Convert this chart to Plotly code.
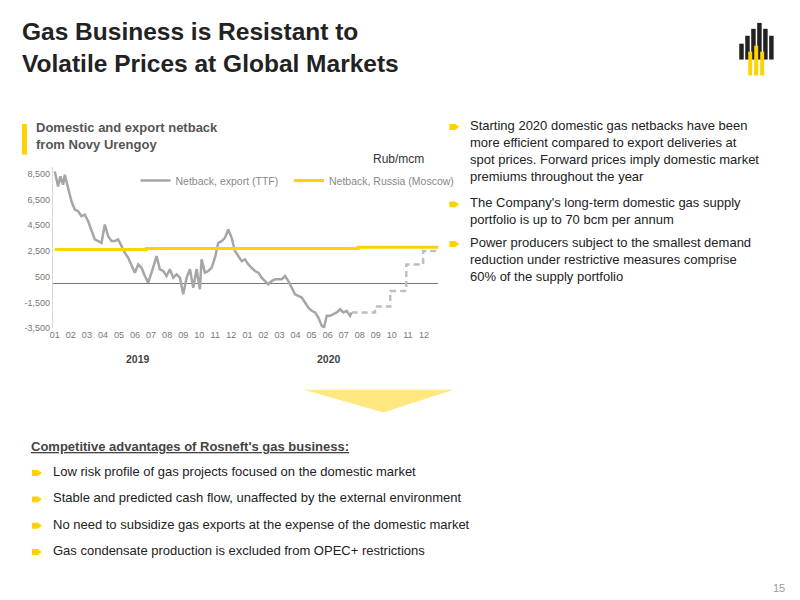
import plotly.graph_objects as go

# data (x in months since Jan 2019, 0 = Jan 2019)
exp_x_z = [105,115,122,130,135,145,155,165,175,185,195,205,215,225,235,245,255,265,275,285,295,305,315,325,335,345,355,365,375,385,395,405,410,420,430,440,450,460,470,480,490,500,510,520,530,540,545,555,565,575,585,595,605,615,625,635,645,655,665,675,685,695,705,715,725,735,745,755,765,775,785,795,805,815,825,835,845,855,865,875,885,895,905,912,920,930,940,950,960,970,980,990,995]
exp_vals = [8680,7520,8300,7650,8420,7390,6360,5720,5590,5200,5330,4810,4170,3400,3270,3140,4560,3650,3270,3270,3400,2880,2370,1980,1330,820,1460,1200,560,50,820,1720,2110,1080,950,560,1080,430,690,430,-860,430,1080,-350,1080,-470,1850,820,950,1200,1980,3140,3270,3530,4170,3530,2500,2110,1720,1850,1460,1200,950,820,430,170,-80,170,300,300,300,560,170,-350,-860,-990,-1110,-1500,-1890,-2140,-2270,-2660,-3300,-3430,-2530,-2530,-2400,-2270,-2020,-2270,-2140,-2530,-2270]
exp_x = [(z-105)/48.1 for z in exp_x_z]
fwd_x = [18.5, 19.95, 19.95, 20.9, 20.9, 21.9, 21.9, 22.95, 22.95, 23.9]
fwd_vals = [-2270, -2270, -1810, -1810, -600, -600, 1460, 1460, 2500, 2500]
dom_x = [0, 5.7, 5.7, 18.9, 18.9, 23.9]
dom_vals = [2620, 2620, 2700, 2700, 2800, 2800]
tick_pos = list(range(24))
tick_text = ["01","02","03","04","05","06","07","08","09","10","11","12"] * 2
y_ticks = [8500, 6500, 4500, 2500, 500, -1500, -3500]

GREY = "#a6a6a6"
YEL = "#ffd200"
fig = go.Figure()
fig.add_trace(go.Scatter(x=exp_x, y=exp_vals, mode="lines", line=dict(color=GREY, width=2.5), name="Netback, export (TTF)", legend="legend"))
fig.add_trace(go.Scatter(x=fwd_x, y=fwd_vals, mode="lines", line=dict(color="#bfbfbf", width=2.5, dash="6px,4px"), showlegend=False))
fig.add_trace(go.Scatter(x=dom_x, y=dom_vals, mode="lines", line=dict(color=YEL, width=3), name="Netback, Russia (Moscow)", legend="legend2"))

XO = 11
def px(x): return (x-XO)/800
def py(y): return 1-y/600

leg = dict(orientation="h", y=py(174), xanchor="left", yanchor="middle",
           font=dict(size=10.5, color="#888"), bgcolor="rgba(0,0,0,0)", itemwidth=30)
fig.update_layout(
    width=800, height=600, margin=dict(l=0, r=0, t=0, b=0),
    plot_bgcolor="white", paper_bgcolor="white",
    font=dict(family="Liberation Sans, Arial", color="#333"),
    xaxis=dict(domain=[px(53), px(440)], range=[-0.12, 23.9], tickvals=tick_pos, ticktext=tick_text,
               showgrid=False, zeroline=False, showline=False, tickfont=dict(size=9, color="#777"), ticks=""),
    yaxis=dict(domain=[py(323), py(160)], range=[-3500, 9050], tickvals=y_ticks,
               ticktext=["8,500","6,500","4,500","2,500","500","-1,500","-3,500"],
               showgrid=False, zeroline=True, zerolinecolor="#777", zerolinewidth=1.2,
               showline=True, linecolor="#d9d9d9", tickfont=dict(size=9, color="#777"), ticks=""),
    legend=dict(leg, x=px(136)),
    legend2=dict(leg, x=px(290)),
    showlegend=True,
)

ann = []
def txt(x, y, s, size=12, color="#333", bold=False, anchor="left", yanchor="top"):
    if bold: s = "<b>" + s + "</b>"
    ann.append(dict(x=px(x), y=py(y), xref="paper", yref="paper", text=s, showarrow=False,
                    xanchor=anchor, yanchor=yanchor, align="left", font=dict(size=size, color=color)))

txt(20, 8, "Gas Business is Resistant to<br>Volatile Prices at Global Markets", size=24.5, color="#222", bold=True)
txt(34, 111, "Domestic and export netback<br>from Novy Urengoy", size=13, color="#555", bold=True)
txt(372, 143, "Rub/mcm", size=12, color="#333")
txt(138, 346, "2019", size=10.5, color="#444", bold=True, anchor="center")
txt(330, 346, "2020", size=10.5, color="#444", bold=True, anchor="center")
right = [(109, "Starting 2020 domestic gas netbacks have been<br>more efficient compared to export deliveries at<br>spot prices. Forward prices imply domestic market<br>premiums throughout the year"),
         (187, "The Company's long-term domestic gas supply<br>portfolio is up to 70 bcm per annum"),
         (227, "Power producers subject to the smallest demand<br>reduction under restrictive measures comprise<br>60% of the supply portfolio")]
shapes = []
def bullet(x, y):
    shapes.append(dict(type="path", xref="paper", yref="paper",
        path=f"M {px(x)},{py(y-3)} L {px(x+6)},{py(y-3)} L {px(x+10)},{py(y)} L {px(x+6)},{py(y+3)} L {px(x)},{py(y+3)} Z",
        fillcolor=YEL, line=dict(width=0)))
for y, s in right:
    txt(470, y, s, size=13, color="#222")
    bullet(451, y+11)
ann.append(dict(x=px(29), y=py(433), xref="paper", yref="paper", text="<b><u>Competitive advantages of Rosneft's gas business:</u></b>",
                showarrow=False, xanchor="left", yanchor="top", font=dict(size=13, color="#444")))
for i, s in enumerate(["Low risk profile of gas projects focused on the domestic market",
                       "Stable and predicted cash flow, unaffected by the external environment",
                       "No need to subsidize gas exports at the expense of the domestic market",
                       "Gas condensate production is excluded from OPEC+ restrictions"]):
    y = 458 + i*26.5
    txt(51, y, s, size=13, color="#222")
    bullet(32, y+11)
txt(790, 577, "15", size=11, color="#999", anchor="right")

shapes.append(dict(type="rect", xref="paper", yref="paper", x0=px(22), x1=px(27), y0=py(148), y1=py(117), fillcolor=YEL, line=dict(width=0)))
shapes.append(dict(type="path", xref="paper", yref="paper",
    path=f"M {px(305)},{py(385)} L {px(455)},{py(385)} L {px(385)},{py(408)} Z", fillcolor="rgba(255,210,0,0.5)", line=dict(width=0)))
for x0, top in [(742, 36), (748, 28), (754, 21), (760, 15), (766, 21), (772, 28)]:
    shapes.append(dict(type="rect", xref="paper", yref="paper", x0=px(x0), x1=px(x0+4.5), y0=py(52), y1=py(top), fillcolor="#222", line=dict(width=0)))
for x0, top in [(751, 44), (757, 38), (763, 44)]:
    shapes.append(dict(type="rect", xref="paper", yref="paper", x0=px(x0), x1=px(x0+4), y0=py(68), y1=py(top), fillcolor=YEL, line=dict(width=0)))
fig.update_layout(annotations=ann, shapes=shapes)
fig.write_html("out.html")
